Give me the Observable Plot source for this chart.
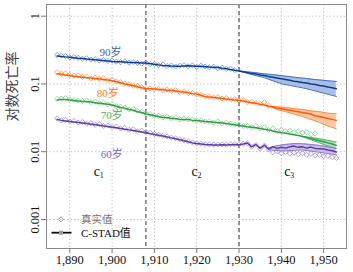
<!DOCTYPE html>
<html><head><meta charset="utf-8">
<script src="https://cdn.jsdelivr.net/npm/d3@7"></script>
<script src="https://cdn.jsdelivr.net/npm/@observablehq/plot@0.6"></script>
<style>
body{margin:0;background:#fff;}
#wrap{position:relative;width:353px;height:272px;}
#legend{position:absolute;left:0;top:0;pointer-events:none;}
#wrap svg, #wrap svg text{font-family:"Liberation Serif","Times New Roman","Noto Sans CJK SC",serif !important;}
</style></head><body><div id="wrap"></div>
<script>
const firstYear = 1887;
const xTicks = [1890, 1900, 1910, 1920, 1930, 1940, 1950];
const yTicks = [0.001, 0.01, 0.1, 1];
const yTickLabels = ["0.001", "0.01", "0.1", "1"];
const dividers = [1908, 1930];
const ageLabels = ["90岁", "80岁", "70岁", "60岁"];
const periodLabels = ["c", "c", "c"];
const periodSubs = ["1", "2", "3"];
const legendLabels = ["真实值", "C-STAD值"];
const yTitle = "对数死亡率";

// fitted (C-STAD) values, one per year from 1887
const fit90 = [.258,.255,.251,.248,.244,.240,.237,.233,.230,.227,.224,.221,.218,.215,.213,.212,.210,.208,.207,.206,.204,.203,.199,.195,.191,.188,.186,.184,.183,.183,.184,.185,.184,.183,.182,.180,.178,.177,.175,.171,.168,.164,.159,.155,.151,.147,.143,.140,.136,.133,.129,.126,.122,.119,.116,.113,.110,.108,.105,.103,.100,.098,.095,.093,.090,.088,.085];
const fit80 = [.142,.139,.136,.133,.130,.128,.126,.124,.122,.120,.118,.116,.114,.112,.108,.104,.100,.097,.094,.091,.088,.086,.085,.084,.083,.082,.081,.080,.079,.077,.076,.074,.072,.071,.068,.065,.064,.063,.062,.061,.060,.059,.058,.057,.056,.054,.053,.052,.050,.049,.047,.046,.044,.043,.042,.041,.040,.039,.038,.037,.036,.034,.033,.032,.031,.030,.029];
const fit70 = [.058,.059,.059,.058,.057,.056,.055,.055,.054,.053,.052,.051,.050,.049,.047,.045,.044,.042,.041,.039,.038,.036,.035,.034,.033,.032,.032,.031,.031,.030,.030,.030,.029,.029,.0285,.028,.0277,.0273,.027,.0265,.026,.0255,.025,.0244,.024,.0234,.023,.0225,.022,.0214,.021,.0202,.0196,.019,.0187,.0183,.0178,.0173,.0168,.0162,.0156,.015,.0145,.014,.0135,.013,.0124];
const fit60 = [.030,.029,.0285,.028,.0275,.027,.0265,.026,.0255,.025,.0245,.024,.0235,.023,.0225,.022,.0215,.021,.0205,.020,.0195,.019,.0185,.018,.0175,.017,.0165,.016,.0155,.015,.0145,.014,.0135,.0132,.013,.0128,.0127,.0126,.0126,.0127,.0126,.0127,.0128,.0127,.0130,.0134,.0118,.0128,.0112,.0125,.0109,.0118,.0112,.0116,.0113,.0118,.0121,.0116,.0118,.0113,.0117,.0112,.0111,.0110,.0106,.0103,.0099];

// observed values, one per year from 1887
const obs90 = [.268,.262,.258,.246,.250,.243,.236,.240,.229,.232,.222,.226,.218,.222,.214,.209,.216,.206,.211,.204,.200,.207,.196,.198,.189,.193,.184,.187,.181,.186,.190,.182,.188,.178,.186,.181,.176,.180,.171,.174,.166,.168,.160];
const obs80 = [.149,.141,.143,.136,.132,.134,.127,.129,.121,.124,.119,.121,.114,.116,.109,.106,.101,.099,.094,.093,.089,.087,.086,.083,.085,.081,.083,.079,.081,.076,.078,.073,.074,.070,.069,.066,.065,.063,.064,.061,.062,.059,.060,.057,.058,.054,.055,.052,.051,.054,.048];
const obs70 = [.060,.061,.062,.059,.058,.057,.056,.057,.054,.055,.052,.053,.050,.051,.047,.046,.045,.042,.043,.040,.039,.037,.036,.034,.034,.032,.033,.031,.032,.030,.031,.030,.030,.029,.029,.028,.028,.027,.028,.026,.027,.026,.025,.025,.024,.024,.023,.024,.022,.023,.021,.022,.020,.021,.020,.0205,.0195,.020,.019,.0195,.018,.0185];
const obs60 = [.031,.029,.0295,.028,.0285,.027,.0275,.026,.0265,.025,.0255,.024,.0245,.023,.0235,.022,.0225,.021,.0215,.020,.0205,.0195,.019,.0183,.0178,.0172,.0168,.0162,.0158,.0152,.0147,.0142,.0137,.0133,.0131,.0129,.0128,.0127,.0128,.0129,.0127,.0129,.0130,.0128,.0131,.0133,.0119,.0126,.0111,.0123,.0108,.0098,.0102,.0095,.0099,.0094,.0097,.0092,.0095,.0090,.0093,.0088,.0090,.0086,.0087,.0083,.0081];

// prediction bands
const band90Years = [1930,1932,1934,1936,1938,1940,1942,1944,1946,1948,1950,1952,1953];
const band90Hi = [.155,.151,.146,.141,.137,.133,.128,.124,.120,.116,.113,.110,.109];
const band90Lo = [.155,.143,.133,.124,.111,.101,.095,.090,.085,.079,.073,.068,.0654];
const band80Years = [1937,1939,1941,1943,1945,1947,1949,1951,1953];
const band80Hi = [.047,.046,.045,.043,.042,.040,.039,.037,.0363];
const band80Lo = [.047,.042,.039,.036,.033,.030,.027,.024,.0218];
const band70Years = [1945,1947,1949,1951,1953];
const band70Hi = [.0168,.0162,.0155,.0147,.0139];
const band70Lo = [.0168,.0150,.0135,.0122,.0111];
const band60Years = [1937,1939,1941,1943,1945,1947,1949,1951,1953];
const band60Hi = [.0114,.0123,.0128,.0132,.0131,.0128,.0124,.0118,.0112];
const band60Lo = [.0106,.0104,.0103,.0105,.0106,.0102,.0098,.0094,.0090];

// label anchors (data coordinates)
const ageLabelYears = [1899.6, 1899.0, 1899.9, 1899.9];
const ageLabelValues = [0.294, 0.073, 0.0343, 0.0091];
const periodLabelYears = [1896.4, 1919.5, 1941.4];
const periodLabelValue = 0.0051;

const colors = {
  line: ["#0b3d97", "#ff5a00", "#2f9e44", "#5b3d9e"],
  dot: ["#6a8fd2", "#ff8f52", "#7fce8a", "#9f8ed8"],
  band: ["#8eaad8", "#fbb48a", "#9dd4a6", "#b9a8df"],
  edge: ["#3f6fbf", "#ff8a3d", "#4cb45e", "#8a74cc"],
  label: ["#3b62b3", "#ff7a33", "#4caf5a", "#7a66c8"]
};

const series = [
  {fit: fit90, obs: obs90, by: band90Years, hi: band90Hi, lo: band90Lo},
  {fit: fit80, obs: obs80, by: band80Years, hi: band80Hi, lo: band80Lo},
  {fit: fit70, obs: obs70, by: band70Years, hi: band70Hi, lo: band70Lo},
  {fit: fit60, obs: obs60, by: band60Years, hi: band60Hi, lo: band60Lo}
];
const toRows = arr => arr.map((v, i) => ({year: firstYear + i, value: v}));

const serif = "Liberation Serif, Times New Roman, Noto Sans CJK SC, serif";
const marks = [
  Plot.gridX(xTicks, {stroke: "#c8c8c8", strokeOpacity: 1, strokeDasharray: "1.5,2"}),
  Plot.gridY(yTicks, {stroke: "#c8c8c8", strokeOpacity: 1, strokeDasharray: "1.5,2"}),
  Plot.ruleX(dividers, {stroke: "#333", strokeDasharray: "4,3", strokeWidth: 1})
];
series.forEach((s, k) => {
  const band = s.by.map((y, i) => ({year: y, hi: s.hi[i], lo: s.lo[i]}));
  marks.push(
    Plot.areaY(band, {x: "year", y1: "lo", y2: "hi", fill: colors.band[k], fillOpacity: 0.75}),
    Plot.line(band, {x: "year", y: "hi", stroke: colors.edge[k], strokeWidth: 1}),
    Plot.line(band, {x: "year", y: "lo", stroke: colors.edge[k], strokeWidth: 1}),
    Plot.dot(toRows(s.obs), {x: "year", y: "value", symbol: "diamond2", r: 2.3, stroke: colors.dot[k], fill: "none", strokeWidth: 0.8}),
    Plot.line(toRows(s.fit), {x: "year", y: "value", stroke: colors.line[k], strokeWidth: 1.5})
  );
});
marks.push(
  Plot.text(ageLabels, {x: (d, i) => ageLabelYears[i], y: (d, i) => ageLabelValues[i], text: d => d, fill: (d, i) => colors.label[i], fontSize: 11}),
  Plot.text(periodLabels, {x: (d, i) => periodLabelYears[i], y: () => periodLabelValue, text: d => d, fill: "#111", fontSize: 14}),
  Plot.text(periodSubs, {x: (d, i) => periodLabelYears[i], y: () => periodLabelValue, text: d => d, fill: "#111", fontSize: 8, dx: 5, dy: 4}),
  Plot.frame({stroke: "#8a8a8a"}),
  Plot.axisX(xTicks, {tickSize: 5, tickPadding: 2, stroke: "#777", fill: "#111", fontSize: 12.5, label: null}),
  Plot.axisY(yTicks, {tickSize: 5, tickPadding: 3, tickRotate: -90, stroke: "#777", fill: "#111", fontSize: 12.5, label: null,
    tickFormat: d => yTickLabels[yTicks.indexOf(d)]}),
  Plot.text([yTitle], {frameAnchor: "left", dx: -34, dy: -5, rotate: -90, fontSize: 14, fill: "#444", text: d => d})
);

const chart = Plot.plot({
  width: 353, height: 272,
  marginLeft: 46, marginRight: 7, marginTop: 4, marginBottom: 24,
  style: {fontFamily: serif, fontSize: "12px", background: "#fff"},
  x: {type: "linear", domain: [1884.5, 1955.4]},
  y: {type: "log", domain: [0.000373, 1.488]},
  marks
});
const wrap = document.getElementById("wrap");
wrap.appendChild(chart);

// legend overlay
const ns = "http://www.w3.org/2000/svg";
const lg = document.createElementNS(ns, "svg");
lg.setAttribute("id", "legend");
lg.setAttribute("width", 353); lg.setAttribute("height", 272);
lg.innerHTML = `
  <path d="M61,216.8 L63.5,219.3 L61,221.8 L58.5,219.3 Z" fill="none" stroke="#888" stroke-width="0.9"/>
  <text x="81" y="219.3" dy="0.35em" font-size="10.5" fill="#777">${legendLabels[0]}</text>
  <line x1="51.5" x2="71.5" y1="232.7" y2="232.7" stroke="#111" stroke-width="1.8"/>
  <rect x="59" y="230.7" width="4" height="4" fill="#999"/>
  <text x="81" y="232.7" dy="0.35em" font-size="11" fill="#111">${legendLabels[1]}</text>`;
wrap.appendChild(lg);
</script>
</body></html>
